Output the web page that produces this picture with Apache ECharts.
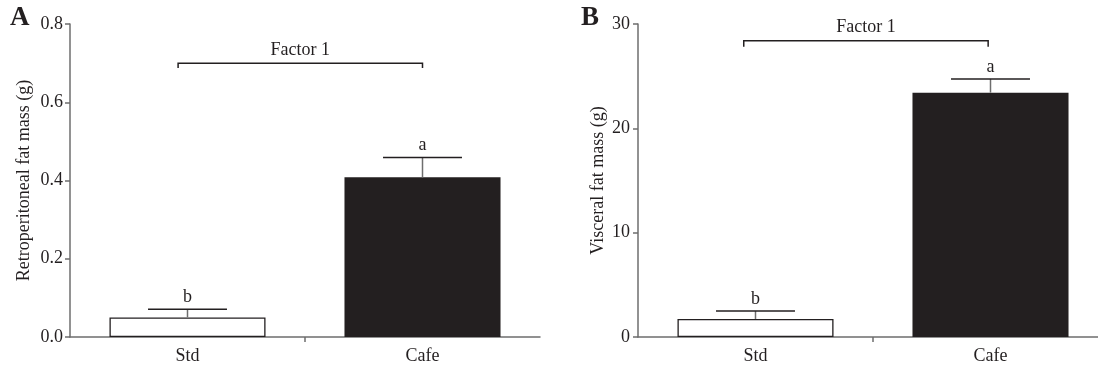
<!DOCTYPE html>
<html>
<head>
<meta charset="utf-8">
<script src="https://cdn.jsdelivr.net/npm/echarts@6/dist/echarts.min.js"></script>
<style>
  html, body { margin: 0; padding: 0; background: #fff; }
  #chart { width: 1098px; height: 368px; }
</style>
</head>
<body>
<div id="chart"></div>
<script>
// values
var categories = ['Std', 'Cafe'];
var retroMean = [0.05, 0.408];
var retroSem = [0.021, 0.051];
var visceralMean = [1.73, 23.42];
var visceralSem = [0.76, 1.32];
var letters = ['b', 'a'];
var retroTicks = [0, 0.2, 0.4, 0.6, 0.8];
var visceralTicks = [0, 10, 20, 30];
var factorLabel = 'Factor 1';
// bracket: [x start, x end, height, drop] on a 0..2 scale across the categories
var retroBracket = [0.46, 1.5, 0.7, 0.0125];
var visceralBracket = [0.45, 1.49, 28.4, 0.58];

var dom = document.getElementById('chart');
var chart = echarts.init(dom, null, { renderer: 'canvas' });

var ink = '#231f20';
var axisGrey = '#6e6e6e';
var font = 'Liberation Serif';

let errorSeries = (idx, mean, sem) => ({
    type: 'custom',
    xAxisIndex: idx * 2,
    yAxisIndex: idx,
    z: 3,
    data: mean.map((m, i) => [i, m, m + sem[i], letters[i]]),
    renderItem: (params, api) => {
        var base = api.coord([api.value(0), api.value(1)]);
        var top = api.coord([api.value(0), api.value(2)]);
        var half = api.size([1, 0])[0] * 0.168;
        return {
            type: 'group',
            children: [
                { type: 'line', shape: { x1: base[0], y1: base[1], x2: top[0], y2: top[1] },
                  style: { stroke: axisGrey, lineWidth: 1.5 } },
                { type: 'line', shape: { x1: top[0] - half, y1: top[1], x2: top[0] + half, y2: top[1] },
                  style: { stroke: ink, lineWidth: 1.5 } },
                { type: 'text', x: top[0], y: top[1] - 3,
                  style: { text: letters[params.dataIndex], fill: ink, font: '18px "' + font + '"',
                           textAlign: 'center', textVerticalAlign: 'bottom' } }
            ]
        };
    }
});

let bracketSeries = (idx, b) => ({
    type: 'custom',
    xAxisIndex: idx * 2 + 1,
    yAxisIndex: idx,
    data: [b],
    renderItem: (params, api) => {
        var p0 = api.coord([api.value(0), api.value(2) - api.value(3)]);
        var p1 = api.coord([api.value(0), api.value(2)]);
        var p2 = api.coord([api.value(1), api.value(2)]);
        var p3 = api.coord([api.value(1), api.value(2) - api.value(3)]);
        var mid = api.coord([(api.value(0) + api.value(1)) / 2, api.value(2)]);
        return {
            type: 'group',
            children: [
                { type: 'polyline', shape: { points: [p0, p1, p2, p3] },
                  style: { stroke: ink, lineWidth: 1.5, fill: null } },
                { type: 'text', x: mid[0], y: mid[1] - 4,
                  style: { text: factorLabel, fill: ink, font: '18px "' + font + '"',
                           textAlign: 'center', textVerticalAlign: 'bottom' } }
            ]
        };
    }
});

let catAxis = (g) => ({
    type: 'category',
    gridIndex: g,
    data: categories,
    axisLine: { lineStyle: { color: axisGrey, width: 1.5 } },
    axisTick: { show: false },
    axisLabel: { color: ink, fontFamily: font, fontSize: 18, margin: 10 }
});

let helperAxis = (g) => ({
    type: 'value',
    gridIndex: g,
    min: 0,
    max: 2,
    position: 'bottom',
    axisLine: { show: false },
    axisTick: { show: true, customValues: [1], length: 5, lineStyle: { color: axisGrey, width: 1.5 } },
    axisLabel: { show: false },
    splitLine: { show: false }
});

let valAxis = (g, name, ticks, gap, margin, digits) => ({
    type: 'value',
    gridIndex: g,
    min: ticks[0],
    max: ticks[ticks.length - 1],
    interval: ticks[1] - ticks[0],
    name: name,
    nameLocation: 'middle',
    nameGap: gap,
    nameTextStyle: { color: ink, fontFamily: font, fontSize: 18 },
    axisLine: { show: true, lineStyle: { color: axisGrey, width: 1.5 } },
    axisTick: { show: true, length: 5, lineStyle: { color: axisGrey, width: 1.5 } },
    axisLabel: { color: ink, fontFamily: font, fontSize: 18, margin: margin,
                 formatter: (v) => v.toFixed(digits) },
    splitLine: { show: false }
});

let barSeries = (idx, mean) => ({
    type: 'bar',
    xAxisIndex: idx * 2,
    yAxisIndex: idx,
    barWidth: '66.4%',
    z: 2,
    data: mean.map((m, i) => ({
        value: m,
        itemStyle: i == 0
            ? { color: '#ffffff', borderColor: ink, borderWidth: 1.3 }
            : { color: ink }
    }))
});

var option = {
    animation: false,
    grid: [
        { left: 70, top: 24, width: 470, height: 313, outerBoundsMode: 'none' },
        { left: 638, top: 24, width: 470, height: 313, outerBoundsMode: 'none' }
    ],
    xAxis: [catAxis(0), helperAxis(0), catAxis(1), helperAxis(1)],
    yAxis: [
        valAxis(0, 'Retroperitoneal fat mass (g)', retroTicks, 37, 7, 1),
        valAxis(1, 'Visceral fat mass (g)', visceralTicks, 31, 8, 0)
    ],
    graphic: [
        { type: 'text', x: 10, y: 32, style: { text: 'A', fill: ink, font: 'bold 27px "' + font + '"', textVerticalAlign: 'bottom' } },
        { type: 'text', x: 581, y: 32, style: { text: 'B', fill: ink, font: 'bold 27px "' + font + '"', textVerticalAlign: 'bottom' } }
    ],
    series: [
        barSeries(0, retroMean),
        errorSeries(0, retroMean, retroSem),
        bracketSeries(0, retroBracket),
        barSeries(1, visceralMean),
        errorSeries(1, visceralMean, visceralSem),
        bracketSeries(1, visceralBracket)
    ]
};

if (option && typeof option === 'object') {
    chart.setOption(option);
}
window.addEventListener('resize', chart.resize);
</script>
</body>
</html>
